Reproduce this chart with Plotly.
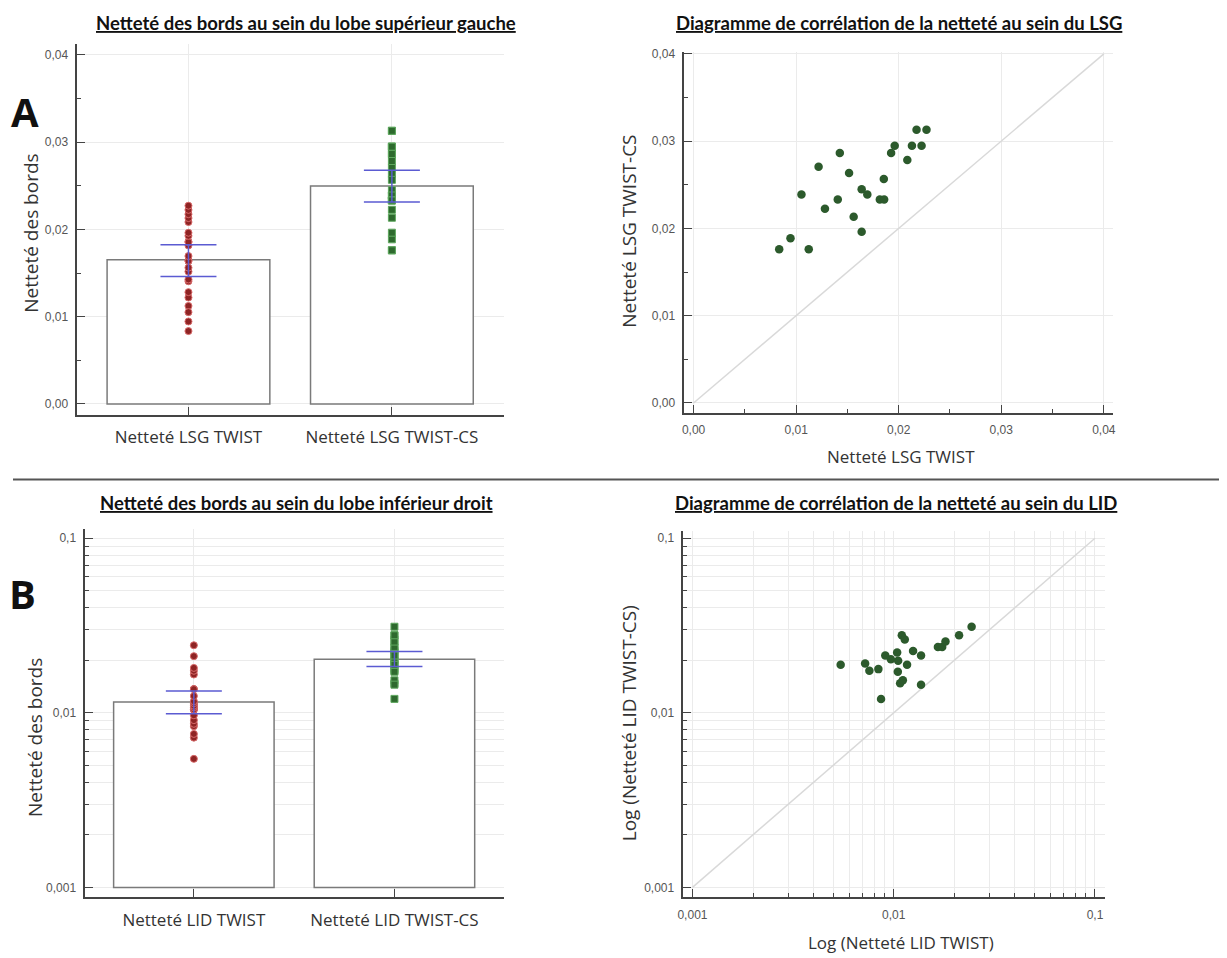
import plotly.graph_objects as go

W, H = 1227, 958
OFFX = 8  # page body margin compensation
OFFY = 9

# ---------------- data ----------------
lsg_categories = ["Netteté LSG TWIST", "Netteté LSG TWIST-CS"]
lid_categories = ["Netteté LID TWIST", "Netteté LID TWIST-CS"]

lsg_twist = [0.00835, 0.00945, 0.01123, 0.01052, 0.01219, 0.01281, 0.01406, 0.01426,
             0.01516, 0.01561, 0.01639, 0.01639, 0.01694, 0.01816, 0.01858, 0.01855,
             0.01926, 0.01961, 0.02084, 0.02129, 0.02174, 0.02223, 0.02271]
lsg_twist_cs = [0.0176, 0.01886, 0.0176, 0.02388, 0.02707, 0.02224, 0.02331, 0.02863,
                0.02635, 0.02133, 0.02449, 0.01962, 0.02388, 0.02331, 0.02331, 0.02567,
                0.02863, 0.02947, 0.02783, 0.02947, 0.03129, 0.02947, 0.03129]

lid_twist = [0.00545, 0.00721, 0.00757, 0.00839, 0.00865, 0.00908, 0.00968, 0.01040,
             0.01052, 0.01048, 0.01076, 0.01110, 0.01097, 0.01135, 0.01165, 0.01248,
             0.01367, 0.01367, 0.01658, 0.01741, 0.01808, 0.02112, 0.02438]
lid_twist_cs = [0.01884, 0.01918, 0.01742, 0.01780, 0.01202, 0.02130, 0.02030, 0.02215,
                0.01986, 0.01719, 0.01476, 0.01535, 0.02780, 0.02627, 0.01884, 0.02264,
                0.02130, 0.01450, 0.02385, 0.02385, 0.02559, 0.02780, 0.03113]

lsg_means = [0.01652, 0.02496]
lsg_ci_low = [0.01459, 0.02313]
lsg_ci_high = [0.01823, 0.02678]

lid_means = [0.01155, 0.0203]
lid_ci_low = [0.00987, 0.01845]
lid_ci_high = [0.01335, 0.02247]
lid_bar_base = 0.001

lsg_diag = [0.0, 0.04]
lid_diag = [0.001, 0.1]

lin_ticks = [0.0, 0.01, 0.02, 0.03, 0.04]
lin_ticktext = ["0,00", "0,01", "0,02", "0,03", "0,04"]
log_ticks = [0.001, 0.01, 0.1]
log_ticktext = ["0,001", "0,01", "0,1"]

# ---------------- styles ----------------
AXIS_COL = "#444444"
GRID_COL = "#ebebeb"
TICK_FONT = dict(family="Liberation Sans", size=12, color="#555555")
CAT_FONT = dict(family="Open Sans", size=17, color="#333333")
TITLE_FONT = dict(family="Lato", size=18.5, color="#111111")
AX_TITLE_FONT = dict(family="Open Sans", size=19, color="#333333")
RED = "#8e2424"
RED_EDGE = "#d86a6a"
GREEN = "#2e6a2e"
GREEN_EDGE = "#5fa85f"
SCAT_GREEN = "#2c5a2c"
CI_COL = "#5b5bd2"

log_minor = [m * 10 ** e for e in (-3, -2) for m in range(2, 10)]


def xd(a, b):
    return [(a - OFFX) / W, (b - OFFX) / W]


def yd(top, bottom):
    return [1 - (bottom - OFFY) / H, 1 - (top - OFFY) / H]


fig = go.Figure()

# ---------- panel A left: bars + strip ----------
fig.add_trace(go.Bar(x=lsg_categories, y=lsg_means, width=0.8,
                     marker=dict(color="white", line=dict(color="#7a7a7a", width=1.5)),
                     xaxis="x", yaxis="y", showlegend=False))
fig.add_trace(go.Scatter(x=[lsg_categories[0]] * len(lsg_twist), y=lsg_twist, mode="markers",
                         marker=dict(symbol="circle", size=7, color=RED,
                                     line=dict(color=RED_EDGE, width=1)),
                         xaxis="x", yaxis="y", showlegend=False))
fig.add_trace(go.Scatter(x=[lsg_categories[1]] * len(lsg_twist_cs), y=lsg_twist_cs, mode="markers",
                         marker=dict(symbol="square", size=7, color=GREEN,
                                     line=dict(color=GREEN_EDGE, width=1)),
                         xaxis="x", yaxis="y", showlegend=False))
fig.add_trace(go.Scatter(x=lsg_categories, y=lsg_means, mode="markers",
                         marker=dict(size=1, opacity=0),
                         error_y=dict(type="data", symmetric=False,
                                      array=[h - m for h, m in zip(lsg_ci_high, lsg_means)],
                                      arrayminus=[m - l for m, l in zip(lsg_means, lsg_ci_low)],
                                      width=28, thickness=1.5, color=CI_COL),
                         xaxis="x", yaxis="y", showlegend=False))

# ---------- panel A right: scatter ----------
fig.add_trace(go.Scatter(x=lsg_diag, y=lsg_diag, mode="lines",
                         line=dict(color="#d9d9d9", width=1.5),
                         xaxis="x2", yaxis="y2", showlegend=False))
fig.add_trace(go.Scatter(x=lsg_twist, y=lsg_twist_cs, mode="markers",
                         marker=dict(size=8.5, color=SCAT_GREEN),
                         xaxis="x2", yaxis="y2", showlegend=False))

# ---------- panel B left: bars + strip (log) ----------
fig.add_trace(go.Bar(x=lid_categories, y=[m - lid_bar_base for m in lid_means], base=lid_bar_base,
                     width=0.8,
                     marker=dict(color="white", line=dict(color="#7a7a7a", width=1.5)),
                     xaxis="x3", yaxis="y3", showlegend=False))
fig.add_trace(go.Scatter(x=[lid_categories[0]] * len(lid_twist), y=lid_twist, mode="markers",
                         marker=dict(symbol="circle", size=7, color=RED,
                                     line=dict(color=RED_EDGE, width=1)),
                         xaxis="x3", yaxis="y3", showlegend=False))
fig.add_trace(go.Scatter(x=[lid_categories[1]] * len(lid_twist_cs), y=lid_twist_cs, mode="markers",
                         marker=dict(symbol="square", size=7, color=GREEN,
                                     line=dict(color=GREEN_EDGE, width=1)),
                         xaxis="x3", yaxis="y3", showlegend=False))
fig.add_trace(go.Scatter(x=lid_categories, y=lid_means, mode="markers",
                         marker=dict(size=1, opacity=0),
                         error_y=dict(type="data", symmetric=False,
                                      array=[h - m for h, m in zip(lid_ci_high, lid_means)],
                                      arrayminus=[m - l for m, l in zip(lid_means, lid_ci_low)],
                                      width=28, thickness=1.5, color=CI_COL),
                         xaxis="x3", yaxis="y3", showlegend=False))

# ---------- panel B right: log scatter ----------
fig.add_trace(go.Scatter(x=lid_diag, y=lid_diag, mode="lines",
                         line=dict(color="#d9d9d9", width=1.5),
                         xaxis="x4", yaxis="y4", showlegend=False))
fig.add_trace(go.Scatter(x=lid_twist, y=lid_twist_cs, mode="markers",
                         marker=dict(size=8.5, color=SCAT_GREEN),
                         xaxis="x4", yaxis="y4", showlegend=False))

common = dict(showline=True, linecolor=AXIS_COL, linewidth=2, ticks="inside",
              tickcolor=AXIS_COL, tickwidth=1.2, zeroline=False, gridcolor=GRID_COL,
              gridwidth=1, tickfont=TICK_FONT)

cat_axis = dict(common, type="category", range=[-0.55, 1.55], showgrid=True, ticklen=8,
                tickfont=CAT_FONT, ticklabelstandoff=6)

lin_y = dict(common, tickvals=lin_ticks, ticktext=lin_ticktext, ticklen=8, showgrid=True,
             minor=dict(dtick=0.005, tick0=0, ticks="inside", ticklen=4, tickcolor=AXIS_COL,
                        showgrid=False), ticklabelstandoff=4)

log_axis = dict(common, type="log", tickvals=log_ticks, ticktext=log_ticktext, ticklen=8,
                showgrid=True,
                minor=dict(tickvals=log_minor, ticks="inside", ticklen=4, tickcolor=AXIS_COL,
                           showgrid=True, gridcolor=GRID_COL), ticklabelstandoff=4)

fig.update_layout(
    width=W, height=H, margin=dict(l=0, r=0, t=0, b=0),
    paper_bgcolor="white", plot_bgcolor="white", showlegend=False, bargap=0.2,
    separators=", ",
    xaxis=dict(cat_axis, domain=xd(72, 502), anchor="y"),
    yaxis=dict(lin_y, domain=yd(40, 413), range=[-0.00125, 0.04125], anchor="x"),
    xaxis2=dict(lin_y, domain=xd(683, 1115), range=[-0.00097, 0.04087], anchor="y2",
                showgrid=True, ticklabelstandoff=5),
    yaxis2=dict(lin_y, domain=yd(48, 411), range=[-0.00114, 0.04023], anchor="x2"),
    xaxis3=dict(cat_axis, domain=xd(80, 502), range=[-0.545, 1.545], anchor="y3"),
    yaxis3=dict(log_axis, domain=yd(528, 898), range=[-3.057, -0.9487], anchor="x3"),
    xaxis4=dict(log_axis, domain=xd(682, 1107), range=[-3.049, -0.951], anchor="y4",
                ticklabelstandoff=5),
    yaxis4=dict(log_axis, domain=yd(530, 898), range=[-3.057, -0.96], anchor="x4"),
)


def ann(text, x, y, font, angle=0):
    fig.add_annotation(text=text, x=(x - OFFX) / W, y=1 - (y - OFFY) / H, xref="paper",
                       yref="paper", showarrow=False, font=font, textangle=angle,
                       xanchor="center", yanchor="middle")


# titles
ann("<b><u>Netteté des bords au sein du lobe supérieur gauche</u></b>", 303, 19, TITLE_FONT)
ann("<b><u>Diagramme de corrélation de la netteté au sein du LSG</u></b>", 900, 19, TITLE_FONT)
ann("<b><u>Netteté des bords au sein du lobe inférieur droit</u></b>", 293, 502, TITLE_FONT)
ann("<b><u>Diagramme de corrélation de la netteté au sein du LID</u></b>", 897, 502, TITLE_FONT)

# axis titles
ann("Netteté des bords", 26, 230, AX_TITLE_FONT, -90)
ann("Netteté LSG TWIST-CS", 628, 228, AX_TITLE_FONT, -90)
ann("Netteté LSG TWIST", 902, 455, CAT_FONT)
ann("Netteté des bords", 30, 737, AX_TITLE_FONT, -90)
ann("Log (Netteté LID TWIST-CS)", 628, 723, AX_TITLE_FONT, -90)
ann("Log (Netteté LID TWIST)", 902, 943, CAT_FONT)

# panel letters
ann("<b>A</b>", 20, 108, dict(family="Open Sans", size=40, color="#111111"))
ann("<b>B</b>", 18, 593, dict(family="Open Sans", size=40, color="#111111"))

# separator line
fig.add_shape(type="line", xref="paper", yref="paper", x0=0, x1=1, y0=1 - (478 - OFFY) / H,
              y1=1 - (478 - OFFY) / H, line=dict(color="#555555", width=2))

fig.write_html("out.html")
